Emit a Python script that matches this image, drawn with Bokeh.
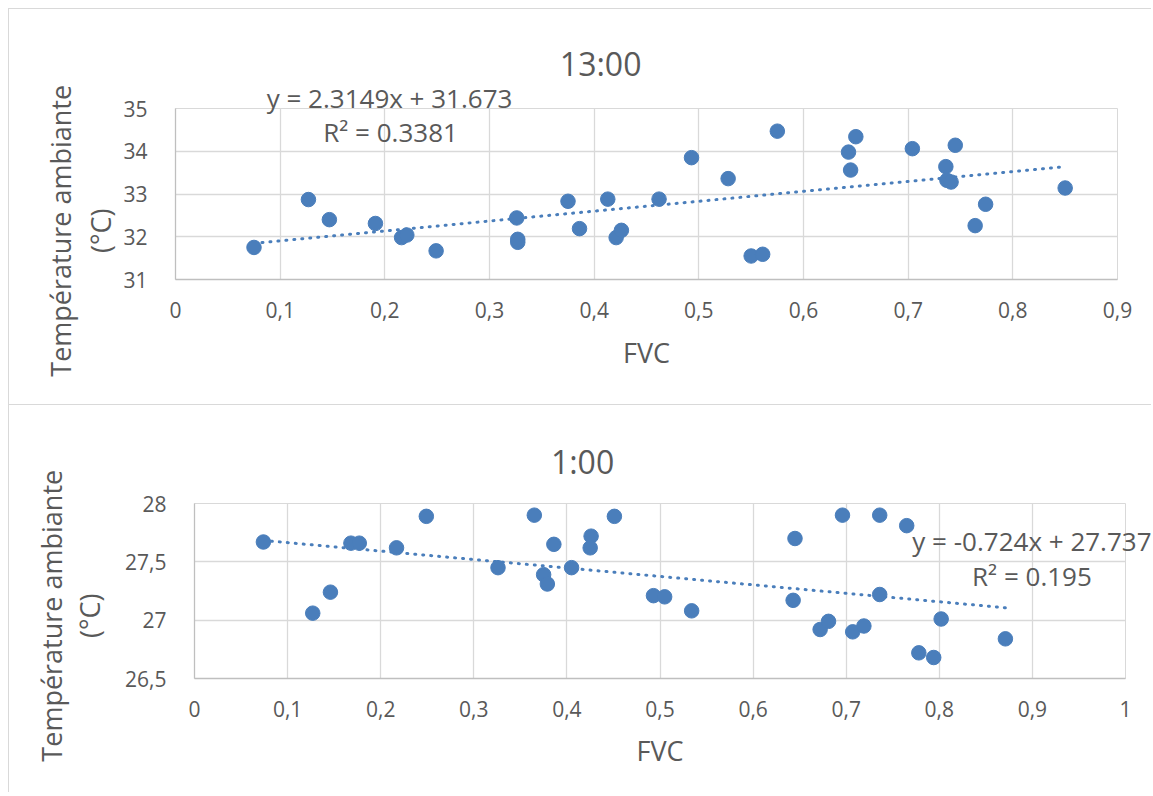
import numpy as np
from bokeh.plotting import figure
from bokeh.models import Label, FixedTicker, CustomJSTickFormatter, Range1d
from bokeh.embed import file_html
from bokeh.resources import INLINE

# ---------------- data ----------------
title_13 = "13:00"
fvc_13 = [0.075, 0.127, 0.147, 0.191, 0.216, 0.221, 0.249, 0.326, 0.327, 0.327,
          0.375, 0.386, 0.413, 0.421, 0.426, 0.462, 0.493, 0.528, 0.550, 0.561,
          0.575, 0.643, 0.645, 0.650, 0.704, 0.736, 0.737, 0.741, 0.745, 0.764,
          0.774, 0.850]
temp_13 = [31.75, 32.87, 32.40, 32.31, 31.98, 32.04, 31.67, 32.44, 31.87, 31.94,
           32.83, 32.19, 32.88, 31.98, 32.15, 32.88, 33.85, 33.36, 31.55, 31.59,
           34.47, 33.98, 33.56, 34.34, 34.06, 33.64, 33.32, 33.28, 34.14, 32.26,
           32.76, 33.14]
slope_13, icpt_13 = 2.3149, 31.673
eq_13 = "y = 2.3149x + 31.673"
r2_13 = "R\u00b2 = 0.3381"
xticks_13 = [0, 0.1, 0.2, 0.3, 0.4, 0.5, 0.6, 0.7, 0.8, 0.9]
yticks_13 = [31, 32, 33, 34, 35]

title_01 = "1:00"
fvc_01 = [0.074, 0.127, 0.146, 0.168, 0.177, 0.217, 0.249, 0.326, 0.365, 0.375,
          0.379, 0.386, 0.405, 0.426, 0.425, 0.451, 0.493, 0.505, 0.534, 0.643,
          0.645, 0.672, 0.681, 0.696, 0.707, 0.719, 0.736, 0.736, 0.765, 0.778,
          0.794, 0.802, 0.871]
temp_01 = [27.67, 27.06, 27.24, 27.66, 27.66, 27.62, 27.89, 27.45, 27.90, 27.39,
           27.31, 27.65, 27.45, 27.72, 27.62, 27.89, 27.21, 27.20, 27.08, 27.17,
           27.70, 26.92, 26.99, 27.90, 26.90, 26.95, 27.90, 27.22, 27.81, 26.72,
           26.68, 27.01, 26.84]
slope_01, icpt_01 = -0.724, 27.737
eq_01 = "y = -0.724x + 27.737"
r2_01 = "R\u00b2 = 0.195"
xticks_01 = [0, 0.1, 0.2, 0.3, 0.4, 0.5, 0.6, 0.7, 0.8, 0.9, 1.0]
yticks_01 = [26.5, 27, 27.5, 28]

x_title = "FVC"
y_title_1 = "Temp\u00e9rature ambiante"
y_title_2 = "(\u00b0C)"

# ---------------- style ----------------
FONT = "Open Sans"
TXT = "#595959"
BLUE = "#4a7ebb"
GRID = "#d9d9d9"
AXIS = "#bfbfbf"
BORDER = "#d9d9d9"

fmt_code = "return (Math.round(tick*10)/10).toString().replace('.', ',');"


def make_chart(xs, ys, slope, icpt, xr, yr, xt, yt, width, height, borders, styles):
    p = figure(width=width, height=height, output_backend="svg", toolbar_location=None,
               x_range=Range1d(*xr), y_range=Range1d(*yr),
               min_border_left=borders[0], min_border_right=borders[1],
               min_border_top=borders[2], min_border_bottom=borders[3])
    p.styles = styles
    p.outline_line_color = GRID
    p.outline_line_width = 1
    p.background_fill_color = "white"
    p.border_fill_color = "white"
    for ax, ticks in ((p.xaxis, xt), (p.yaxis, yt)):
        ax.ticker = FixedTicker(ticks=ticks)
        ax.formatter = CustomJSTickFormatter(code=fmt_code)
        ax.major_tick_in = 0
        ax.major_tick_out = 0
        ax.minor_tick_in = 0
        ax.minor_tick_out = 0
        ax.axis_line_color = AXIS
        ax.axis_line_width = 1.3
        ax.major_label_text_font = FONT
        ax.major_label_text_font_size = "21px"
        ax.major_label_text_color = TXT
    p.xaxis.major_label_standoff = 22
    p.yaxis.major_label_standoff = 28
    p.xgrid.ticker = FixedTicker(ticks=xt)
    p.ygrid.ticker = FixedTicker(ticks=yt)
    p.grid.grid_line_color = GRID
    p.grid.grid_line_width = 1.3

    tx = np.array([min(xs), max(xs)])
    p.line(tx, slope * tx + icpt, line_color=BLUE, line_width=3, line_dash="1 7",
           line_cap="round")
    p.scatter(xs, ys, size=14.5, fill_color=BLUE, line_color=BLUE)
    return p


def add_text(p, x, y, text, size, place="center", angle=0.0):
    lab = Label(x=x, y=y, text=text, text_font=FONT, text_font_size=size,
                text_color=TXT, text_align="center", text_baseline="middle",
                angle=angle)
    if place == "center":
        p.add_layout(lab)
    else:
        p.add_layout(lab, place)


# top chart (13:00)
p1 = make_chart(fvc_13, temp_13, slope_13, icpt_13, (0, 0.9), (31, 35),
                xticks_13, yticks_13, 1143, 396, (166, 35, 99, 126),
                {"border-top": "1px solid " + BORDER, "border-left": "1px solid " + BORDER,
                 "margin-left": "8px", "margin-top": "8px"})
add_text(p1, 0.4062, 36.06, title_13, "32px", "above")
add_text(p1, 0.2045, 35.24, eq_13, "26px", "above")
add_text(p1, 0.2055, 34.45, r2_13, "26px")
add_text(p1, 0.450, 29.29, x_title, "27px", "below")
add_text(p1, -0.1099, 32.14, y_title_1, "27px", "left", np.pi / 2)
add_text(p1, -0.0717, 32.14, y_title_2, "27px", "left", np.pi / 2)

# bottom chart (1:00)
p2 = make_chart(fvc_01, temp_01, slope_01, icpt_01, (0, 1), (26.5, 28),
                xticks_01, yticks_01, 1143, 388, (185, 27, 98, 115),
                {"border-top": "1px solid " + BORDER, "border-left": "1px solid " + BORDER,
                 "margin-left": "8px"})
add_text(p2, 0.4168, 28.361, title_01, "32px", "above")
add_text(p2, 0.8995, 27.682, eq_01, "26px", "above")
add_text(p2, 0.8995, 27.379, r2_01, "26px")
add_text(p2, 0.5, 25.879, x_title, "27px", "below")
add_text(p2, -0.1539, 27.038, y_title_1, "27px", "left", np.pi / 2)
add_text(p2, -0.1131, 27.038, y_title_2, "27px", "left", np.pi / 2)

open("out.html", "w").write(file_html([p1, p2], INLINE))
